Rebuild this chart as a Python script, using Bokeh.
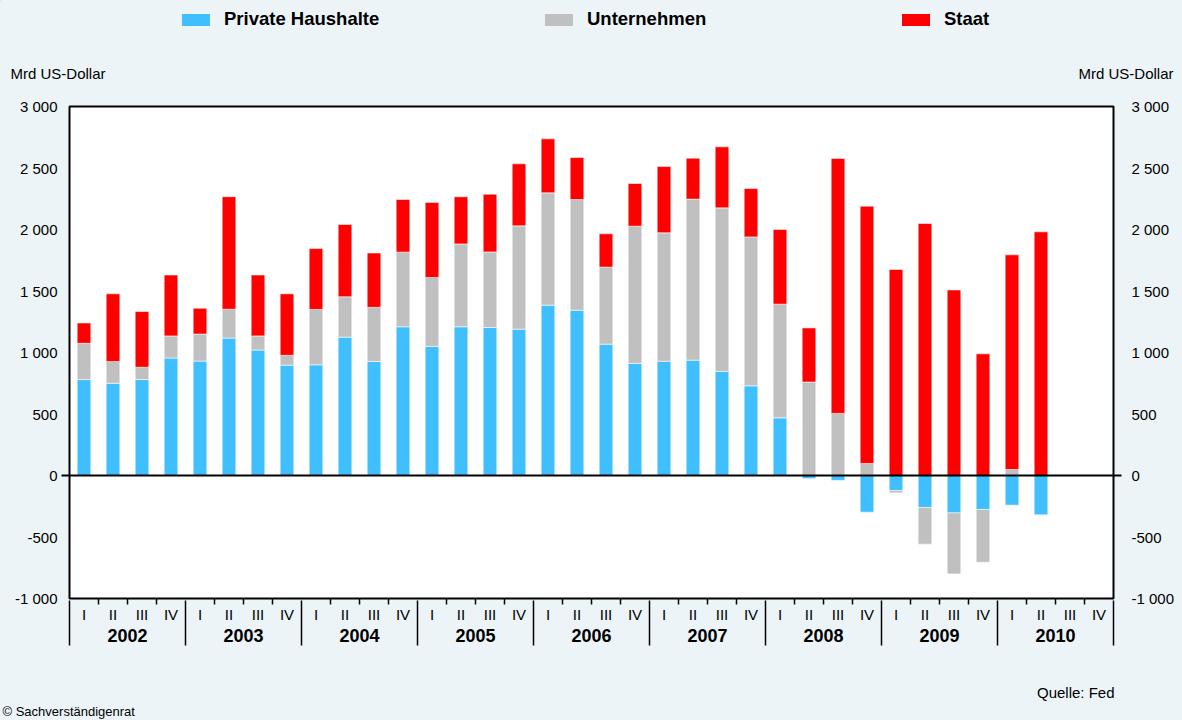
import numpy as np
from bokeh.plotting import figure
from bokeh.models import (ColumnDataSource, LinearAxis, FixedTicker, Span,
                          Legend, LegendItem, Range1d)
from bokeh.core.properties import value
from bokeh.embed import file_html
from bokeh.resources import INLINE

# ---------------- data ----------------
years = ["2002", "2003", "2004", "2005", "2006", "2007", "2008", "2009", "2010"]
quarter_names = ["I", "II", "III", "IV"]
series_names = ["Private Haushalte", "Unternehmen", "Staat"]
series_colors = ["#40BFFF", "#C0C0C0", "#FF0000"]

# Mrd US-Dollar, 2002 Q1 ... 2010 Q2
haushalte = [780, 750, 780, 955, 930, 1117, 1020, 897, 900, 1125, 927, 1209,
             1050, 1209, 1203, 1190, 1385, 1344, 1068, 911, 929, 938, 846, 729,
             469, -25, -40, -298, -122, -260, -304, -276, -241, -320]
unternehmen = [295, 177, 100, 180, 220, 235, 115, 80, 450, 328, 440, 607,
               560, 674, 615, 840, 913, 900, 626, 1116, 1044, 1309, 1330, 1211,
               924, 760, 505, 98, -19, -298, -496, -429, 49, 0]
staat = [165, 550, 453, 495, 210, 915, 495, 500, 495, 588, 442, 428,
         610, 383, 469, 504, 439, 341, 271, 347, 539, 333, 496, 393,
         607, 440, 2073, 2092, 1675, 2049, 1509, 989, 1745, 1981]

y_ticks = [-1000, -500, 0, 500, 1000, 1500, 2000, 2500, 3000]
y_tick_labels = ["-1 000", "-500", "0", "500", "1 000", "1 500", "2 000", "2 500", "3 000"]

unit_label = "Mrd US-Dollar"
source_label = "Quelle: Fed"
copyright_label = "© Sachverständigenrat"

FONT = "Liberation Sans"
BG = "#ECF4F8"
W = 1182
H_HEAD, H_MAIN, H_FOOT = 96, 562, 62

n_q = len(years) * 4
n = len(haushalte)
xc = np.arange(n) + 0.5

# sign-split stacking
pos_base = np.zeros(n)
neg_base = np.zeros(n)
stacks = []
for vals in (haushalte, unternehmen, staat):
    v = np.array(vals, dtype=float)
    bottom = np.where(v >= 0, pos_base, neg_base)
    top = bottom + v
    pos_base = np.where(v >= 0, top, pos_base)
    neg_base = np.where(v < 0, top, neg_base)
    stacks.append((bottom, top))


def blank_fig(height, y0):
    f = figure(width=W, height=height, x_range=Range1d(0, W), y_range=Range1d(y0 + height, y0),
               x_axis_type=None, y_axis_type=None, output_backend="svg",
               toolbar_location=None, min_border_left=0, min_border_right=0,
               min_border_top=0, min_border_bottom=0,
               styles={"background-color": BG})
    f.border_fill_color = BG
    f.background_fill_color = BG
    f.outline_line_color = None
    f.grid.visible = False
    return f


# ---------------- header (legend + unit labels) ----------------
head = blank_fig(H_HEAD, 0)
for name, col, xpos in zip(series_names, series_colors, (178, 541, 898)):
    # swatch source for the legend only (placed outside the visible range)
    dummy = head.vbar(x=[-500], bottom=[-500], top=[-499], width=1, fill_color=col, line_color=None)
    lg = Legend(items=[LegendItem(label=name, renderers=[dummy])], location=(xpos, 66),
                orientation="horizontal", padding=0, margin=0,
                border_line_color=None, background_fill_alpha=0,
                glyph_width=35, glyph_height=15, label_standoff=11,
                label_text_font=FONT, label_text_font_size="18.5px",
                label_text_font_style="bold", label_text_color="black")
    head.add_layout(lg, "center")
head.text(x=[10], y=[73], text=[unit_label], text_font=value(FONT), text_font_size="15px",
          text_align="left", text_baseline="middle", text_color="black")
head.text(x=[1173], y=[73], text=[unit_label], text_font=value(FONT), text_font_size="15px",
          text_align="right", text_baseline="middle", text_color="black")

# ---------------- main chart ----------------
p = figure(width=W, height=H_MAIN, x_range=(0, n_q), y_range=(y_ticks[0], y_ticks[-1]),
           x_axis_type=None, y_axis_type=None, output_backend="svg",
           toolbar_location=None, min_border_left=69, min_border_right=69,
           min_border_top=10, min_border_bottom=60,
           styles={"background-color": BG})
p.border_fill_color = BG
p.background_fill_color = "white"
p.outline_line_color = "black"
p.outline_line_width = 2
p.outline_line_alpha = 1

p.xgrid.visible = False
p.ygrid.ticker = FixedTicker(ticks=[t for t in y_ticks if t not in (0, y_ticks[0], y_ticks[-1])])
p.ygrid.grid_line_color = "black"
p.ygrid.grid_line_dash = "2 1"
p.ygrid.grid_line_width = 1.6

for (bottom, top), name, col in zip(stacks, series_names, series_colors):
    src = ColumnDataSource(dict(x=xc, bottom=bottom, top=top))
    p.vbar(x="x", bottom="bottom", top="top", width=0.47, source=src,
           fill_color=col, line_color="white", line_alpha=0.55, line_width=1)

p.add_layout(Span(location=0, dimension="width", line_color="black", line_width=2))

for side, standoff in (("left", 4), ("right", 10)):
    ax = LinearAxis(ticker=FixedTicker(ticks=y_ticks, minor_ticks=[0]))
    ax.major_label_overrides = {t: l for t, l in zip(y_ticks, y_tick_labels)}
    ax.axis_line_color = None
    ax.major_tick_line_color = None
    ax.major_tick_out = 0
    ax.major_tick_in = 0
    ax.minor_tick_in = 0
    ax.minor_tick_out = 8
    ax.minor_tick_line_width = 2
    ax.minor_tick_line_color = "black"
    ax.major_label_standoff = standoff
    ax.major_label_text_font = FONT
    ax.major_label_text_font_size = "15px"
    ax.major_label_text_color = "black"
    p.add_layout(ax, side)

q_centers = [i + 0.5 for i in range(n_q)]
q_axis = LinearAxis(ticker=FixedTicker(ticks=q_centers,
                                       minor_ticks=[i for i in range(1, n_q) if i % 4]))
q_axis.major_label_overrides = {c: quarter_names[i % 4] for i, c in enumerate(q_centers)}
q_axis.axis_line_color = None
q_axis.major_tick_line_color = None
q_axis.major_tick_out = 0
q_axis.major_tick_in = 0
q_axis.minor_tick_in = 0
q_axis.minor_tick_out = 6
q_axis.minor_tick_line_color = "black"
q_axis.minor_tick_line_width = 1.5
q_axis.major_label_standoff = 1
q_axis.major_label_text_font = FONT
q_axis.major_label_text_font_size = "15px"
q_axis.major_label_text_color = "black"
p.add_layout(q_axis, "below")

y_centers = [4 * k + 2 for k in range(len(years))]
yr_axis = LinearAxis(ticker=FixedTicker(ticks=y_centers,
                                        minor_ticks=[4 * k for k in range(len(years) + 1)]))
yr_axis.major_label_overrides = {c: y for c, y in zip(y_centers, years)}
yr_axis.axis_line_color = None
yr_axis.major_tick_line_color = None
yr_axis.major_tick_out = 0
yr_axis.major_tick_in = 0
yr_axis.minor_tick_in = 25
yr_axis.minor_tick_out = 20
yr_axis.minor_tick_line_color = "black"
yr_axis.minor_tick_line_width = 1.5
yr_axis.major_label_standoff = -17
yr_axis.major_label_text_font = FONT
yr_axis.major_label_text_font_size = "18px"
yr_axis.major_label_text_font_style = "bold"
yr_axis.major_label_text_color = "black"
p.add_layout(yr_axis, "below")

# ---------------- footer ----------------
foot = blank_fig(H_FOOT, H_HEAD + H_MAIN)
foot.text(x=[1114], y=[692], text=[source_label], text_font=value(FONT), text_font_size="15px",
          text_align="right", text_baseline="middle", text_color="black")
foot.text(x=[2], y=[711], text=[copyright_label], text_font=value(FONT), text_font_size="13px",
          text_align="left", text_baseline="middle", text_color="black")

open("out.html", "w").write(file_html([head, p, foot], INLINE))
